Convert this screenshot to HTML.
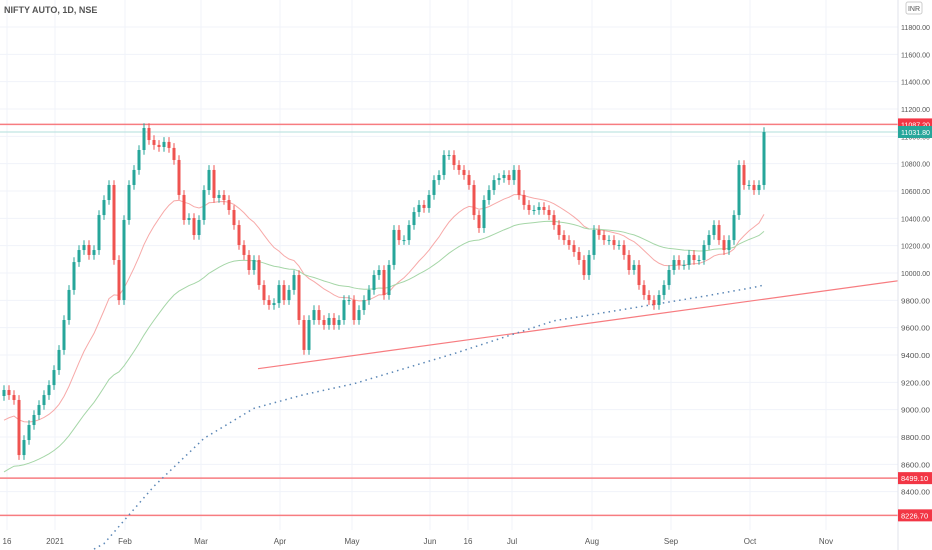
<!DOCTYPE html>
<html><head><meta charset="utf-8"><style>
html,body{margin:0;padding:0;background:#fff;}
svg{display:block;font-family:"Liberation Sans",sans-serif;}
</style></head><body>
<svg id="chart" width="932" height="550" viewBox="0 0 932 550" xmlns="http://www.w3.org/2000/svg">
<rect width="932" height="550" fill="#fff"/>
<g id="grid"></g>
<g id="levels"></g>
<g id="mas"></g>
<g id="candles"></g>
<line x1="898" y1="0" x2="898" y2="550" stroke="#e0e3eb"/>
<g id="yaxis"></g>
<g id="xaxis"></g>
<text x="4" y="13" font-size="9" font-weight="bold" fill="#555">NIFTY AUTO, 1D, NSE</text>
<rect x="906" y="2" width="16" height="12" rx="2" fill="#fff" stroke="#ccc"/>
<text x="914" y="11" font-size="7" fill="#555" text-anchor="middle">INR</text>
</svg>
<script>
const closes=[9144,9107,9071,8668,8778,8888,8961,9034,9107,9180,9290,9437,9656,9876,10080,10168,10205,10132,10168,10424,10534,10644,10095,9802,10388,10644,10754,10900,11061,10973,10937,10922,10959,10915,10827,10571,10388,10402,10278,10388,10607,10754,10549,10571,10534,10461,10351,10205,10132,10022,10095,9912,9802,9766,9780,9912,9802,9876,9985,9656,9437,9656,9729,9656,9620,9671,9620,9656,9802,9802,9656,9729,9802,9876,9985,10022,9839,10059,10315,10241,10241,10351,10446,10498,10476,10571,10680,10717,10863,10863,10790,10754,10717,10644,10424,10329,10534,10607,10680,10695,10717,10680,10754,10571,10498,10461,10461,10483,10461,10424,10351,10278,10241,10205,10154,10095,9985,10132,10315,10278,10241,10241,10205,10205,10132,10022,10059,9912,9839,9802,9766,9839,9912,10022,10095,10059,10059,10132,10095,10095,10205,10278,10351,10241,10168,10241,10424,10790,10644,10644,10607,10644,11031.8];
const firstOpen=9100;
const ma200Idx=[18,20,30,40,50,60,70,80,90,100,110,120,130,140,150,152];
const ma200Val=[7980,8020,8440,8790,9010,9110,9190,9300,9410,9530,9650,9710,9770,9830,9895,9912];
const yTicks=[11800,11600,11400,11200,11000,10800,10600,10400,10200,10000,9800,9600,9400,9200,9000,8800,8600,8400];
const xLabels=["16","2021","Feb","Mar","Apr","May","Jun","16","Jul","Aug","Sep","Oct","Nov"];
const xLabelIdx=[0.6,10.2,24.2,39.4,55.2,69.6,85.2,92.8,101.6,117.6,133.4,149.2,164.4];
const levelVals=[11087.2,8499.1,8226.7];
const levelLabels=["11087.20","8499.10","8226.70"];
const lastVal=11031.8, lastLabel="11031.80";
const trend=[[50.8,9300],[178.2,9940]];

const NS="http://www.w3.org/2000/svg";
const y=p=>273-(p-10000)*0.13667;
const x=i=>4+i*5;
function mk(tag,attrs,parent){const e=document.createElementNS(NS,tag);for(const k in attrs)e.setAttribute(k,attrs[k]);parent.appendChild(e);return e;}
const grid=document.getElementById('grid'),yax=document.getElementById('yaxis'),xax=document.getElementById('xaxis');
yTicks.forEach(t=>{
 const l=mk('line',{x1:0,x2:898,y1:y(t),y2:y(t),stroke:'#f0f3fa'},grid);
 
 
 const tx=mk('text',{x:901,y:y(t)+3,'font-size':7.5,fill:'#555',textLength:29,lengthAdjust:'spacingAndGlyphs'},yax);tx.textContent=t.toFixed(2);
 
 
});
xLabels.forEach((s,k)=>{
 const xx=x(xLabelIdx[k]);
 const l=mk('line',{x1:xx,x2:xx,y1:0,y2:530,stroke:'#f0f3fa'},grid);
 
 
 const tx=mk('text',{x:xx,y:544,'font-size':8,fill:'#555','text-anchor':'middle'},xax);tx.textContent=s;
 
 
});
const lv=document.getElementById('levels');
levelVals.forEach((v,k)=>{
 const l=mk('line',{x1:0,x2:898,y1:y(v),y2:y(v),stroke:'#f77c80','stroke-width':1.5},lv);
 
 
 const r=mk('rect',{x:898,y:y(v)-6,width:34,height:12,fill:'#f23645'},yax);
 
 
 const t=mk('text',{x:901,y:y(v)+3,'font-size':7.5,fill:'#fff'},yax);t.textContent=levelLabels[k];
 if(levelLabels[k].length>7){t.setAttribute('textLength',29);t.setAttribute('lengthAdjust','spacingAndGlyphs');}
 
 
});
{
 const l=mk('line',{x1:0,x2:898,y1:y(lastVal),y2:y(lastVal),stroke:'#b2dfdb','stroke-width':1},lv);
 
 
 const r=mk('rect',{x:898,y:y(lastVal)-6,width:34,height:12,fill:'#26a69a'},yax);
 
 
 const t=mk('text',{x:901,y:y(lastVal)+3,'font-size':7.5,fill:'#fff',textLength:29,lengthAdjust:'spacingAndGlyphs'},yax);t.textContent=lastLabel;
 
 
 const s=(trend[1][1]-trend[0][1])/(trend[1][0]-trend[0][0]);
 const tl=mk('line',{x1:x(trend[0][0]),y1:y(trend[0][1]),x2:898,y2:y(trend[0][1]+s*((898-4)/5-trend[0][0])),stroke:'#f77c80','stroke-width':1.2},lv);
 
 
}
function ema(period,seed){let e=seed;return closes.map(c=>{e=e+(c-e)*2/(period+1);return e;});}
const mas=document.getElementById('mas');
const e20=ema(20,8900),e50=ema(50,8520);
const p20=mk('polyline',{points:e20.map((v,i)=>x(i)+','+y(v)).join(' '),fill:'none',stroke:'#f7a9a8','stroke-width':1},mas);


const p50=mk('polyline',{points:e50.map((v,i)=>x(i)+','+y(v)).join(' '),fill:'none',stroke:'#a5d6a7','stroke-width':1},mas);


const p200=mk('polyline',{points:ma200Idx.map((v,k)=>x(v)+','+y(ma200Val[k])).join(' '),fill:'none',stroke:'#5b87b6','stroke-width':1.5,'stroke-dasharray':'1.5 4'},mas);


const cg=document.getElementById('candles');
closes.forEach((c,i)=>{
 const o=i?closes[i-1]:firstOpen;
 const up=c>=o,col=up?'#26a69a':'#ef5350';
 const hi=Math.max(o,c)+35,lo=Math.min(o,c)-35;
 const w=mk('line',{x1:x(i),x2:x(i),y1:y(hi),y2:y(lo),stroke:col,'stroke-width':1},cg);
 
 
 const top=y(Math.max(o,c)),h=Math.max(1,Math.abs(y(o)-y(c)));
 const b=mk('rect',{x:x(i)-1.5,y:top,width:3,height:h,fill:col},cg);
 
 
});
</script>
</body></html>
